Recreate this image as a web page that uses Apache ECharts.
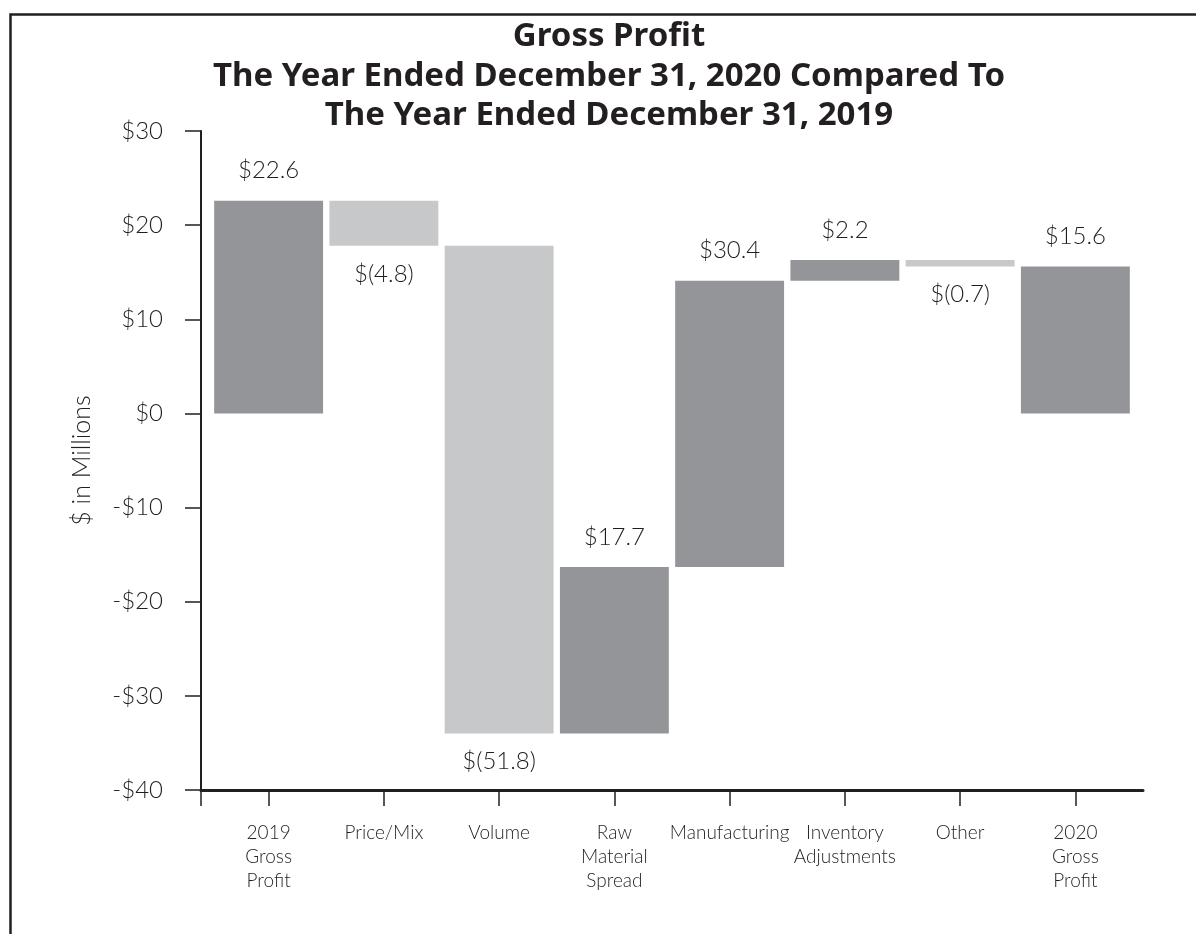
<!DOCTYPE html>
<html>
<head>
<meta charset="utf-8">
<title>Gross Profit Bridge</title>
<script src="https://cdn.jsdelivr.net/npm/echarts@6/dist/echarts.min.js"></script>
<style>
  html, body { margin: 0; padding: 0; background: #ffffff; }
  #chart { width: 1196px; height: 934px; }
</style>
</head>
<body>
<div id="chart"></div>
<script>
// Bridge steps from 2019 to 2020 gross profit ($ millions)
const categories = [
  '2019\nGross\nProfit', 'Price/Mix', 'Volume', 'Raw\nMaterial\nSpread',
  'Manufacturing', 'Inventory\nAdjustments', 'Other', '2020\nGross\nProfit'
];
const changes = [22.6, -4.8, -51.8, 17.7, 30.4, 2.2, -0.7, 15.6];
const isTotal = [true, false, false, false, false, false, false, true];

const yTicks = { min: -40, max: 30, step: 10 };

const DARK = '#939598';
const LIGHT = '#c7c8ca';
const INK = '#231f20';
const TEXT = '#1f1f1f';
const BODY_FONT = 'Lato, "Noto Sans", sans-serif';
const BODY_WEIGHT = 300;

// Turn the step changes into floating segments [index, low, high, change, total]
const segments = [];
let running = 0;
changes.forEach((v, i) => {
  if (isTotal[i]) {
    running = v;
    segments.push([i, Math.min(0, v), Math.max(0, v), v, 1]);
  } else {
    const start = running;
    const end = +(running + v).toFixed(4);
    running = end;
    segments.push([i, Math.min(start, end), Math.max(start, end), v, 0]);
  }
});

function money(v) {
  return v < 0 ? '$(' + Math.abs(v).toFixed(1) + ')' : '$' + v.toFixed(1);
}

function renderStep(params, api) {
  const i = api.value(0);
  const lo = api.value(1);
  const hi = api.value(2);
  const change = api.value(3);
  const total = api.value(4) === 1;
  const top = api.coord([i, hi]);
  const bottom = api.coord([i, lo]);
  const w = api.size([1, 0])[0] * 0.945;
  const fill = (total || change > 0) ? DARK : LIGHT;
  const up = change >= 0;
  return {
    type: 'group',
    children: [
      {
        type: 'rect',
        shape: { x: top[0] - w / 2, y: top[1], width: w, height: bottom[1] - top[1] },
        style: { fill: fill }
      },
      {
        type: 'text',
        style: {
          text: money(change),
          x: top[0],
          y: up ? top[1] - 18 : bottom[1] + 16,
          align: 'center',
          verticalAlign: up ? 'bottom' : 'top',
          fontSize: 24,
          fontWeight: BODY_WEIGHT,
          fontFamily: BODY_FONT,
          fill: TEXT
        }
      }
    ]
  };
}

const chart = echarts.init(document.getElementById('chart'), null, { renderer: 'canvas' });

chart.setOption({
  backgroundColor: '#ffffff',
  animation: false,
  title: {
    text: 'Gross Profit\nThe Year Ended December 31, 2020 Compared To\nThe Year Ended December 31, 2019',
    left: 609,
    top: 17,
    textAlign: 'center',
    padding: 0,
    textStyle: {
      fontFamily: '"Noto Sans", Lato, sans-serif',
      fontWeight: 'bold',
      fontSize: 33,
      lineHeight: 39.5,
      color: INK
    }
  },
  graphic: [
    {
      type: 'rect',
      left: 8,
      top: 12,
      silent: true,
      shape: { x: 0, y: 0, width: 1300, height: 1000 },
      style: { fill: 'none', stroke: INK, lineWidth: 2.5 }
    }
  ],
  grid: [
    { left: 211, right: 63, top: 131, bottom: 144 },
    { left: 201, right: 53, top: 131, bottom: 144 }
  ],
  xAxis: [
    {
      type: 'category',
      gridIndex: 0,
      data: categories,
      position: 'bottom',
      axisLine: { show: false, onZero: false },
      axisTick: {
        show: true,
        alignWithLabel: true,
        length: 16,
        lineStyle: { color: INK, width: 1.5 }
      },
      axisLabel: {
        margin: 31,
        fontSize: 19,
        fontWeight: BODY_WEIGHT,
        lineHeight: 24,
        fontFamily: BODY_FONT,
        color: TEXT,
        interval: 0
      },
      splitLine: { show: false }
    },
    {
      type: 'value',
      gridIndex: 1,
      min: 0,
      max: 1,
      position: 'bottom',
      axisLine: { show: true, onZero: false, lineStyle: { color: INK, width: 3 } },
      axisTick: {
        show: true,
        customValues: [0],
        length: 16,
        lineStyle: { color: INK, width: 1.5 }
      },
      axisLabel: { show: false },
      splitLine: { show: false }
    }
  ],
  yAxis: [
    {
      type: 'value',
      gridIndex: 0,
      min: yTicks.min,
      max: yTicks.max,
      interval: yTicks.step,
      offset: 10,
      name: '$ in Millions',
      nameLocation: 'middle',
      nameRotate: 90,
      nameGap: 107,
      nameTextStyle: { fontSize: 25, fontWeight: BODY_WEIGHT, fontFamily: BODY_FONT, color: TEXT },
      axisLine: { show: true, lineStyle: { color: INK, width: 2 } },
      axisTick: { show: true, length: 16, lineStyle: { color: INK, width: 1.5 } },
      axisLabel: {
        margin: 38,
        fontSize: 24,
        fontWeight: BODY_WEIGHT,
        fontFamily: BODY_FONT,
        color: TEXT,
        formatter: v => (v < 0 ? '-$' + Math.abs(v) : '$' + v)
      },
      splitLine: { show: false }
    },
    {
      type: 'value',
      gridIndex: 1,
      min: yTicks.min,
      max: yTicks.max,
      show: false
    }
  ],
  series: [
    {
      type: 'custom',
      xAxisIndex: 0,
      yAxisIndex: 0,
      renderItem: renderStep,
      encode: { x: 0, y: [1, 2] },
      data: segments,
      clip: false
    }
  ]
});
</script>
</body>
</html>
